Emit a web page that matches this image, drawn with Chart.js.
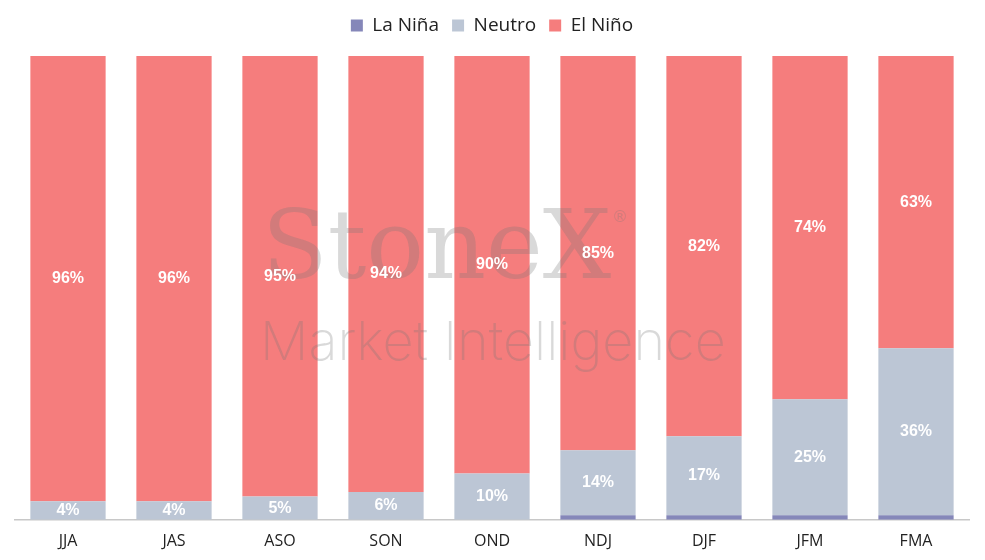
<!DOCTYPE html>
<html>
<head>
<meta charset="utf-8">
<script src="https://cdn.jsdelivr.net/npm/chart.js@4"></script>
<style>
html,body{margin:0;padding:0;background:#fff;}
#wrap{width:985px;height:560px;position:relative;}
</style>
</head>
<body>
<div id="wrap"><canvas id="c" width="985" height="560"></canvas></div>
<script>
const categories = ["JJA","JAS","ASO","SON","OND","NDJ","DJF","JFM","FMA"];
const laNina = [0,0,0,0,0,1,1,1,1];
const neutro = [4,4,5,6,10,14,17,25,36];
const elNino = [96,96,95,94,90,85,82,74,63];

const legendMargin = {
  id: 'legendMargin',
  beforeInit(chart) {
    const orig = chart.legend.fit;
    chart.legend.fit = function () {
      orig.bind(chart.legend)();
      this.height += 11;
    };
  }
};

const overlay = {
  id: 'overlay',
  afterDatasetsDraw(chart) {
    const ctx = chart.ctx;
    // watermark
    ctx.save();
    ctx.fillStyle = 'rgba(120,120,120,0.28)';
    ctx.textBaseline = 'alphabetic';
    ctx.textAlign = 'left';
    ctx.font = '96px "DejaVu Serif", "Liberation Serif", serif';
    ctx.fillText('StoneX', 262, 278);
    ctx.font = '16px "DejaVu Sans", sans-serif';
    ctx.fillText('®', 612, 222);
    ctx.font = '200 54px "Inter", "Lato", sans-serif';
    ctx.fillText('Market Intelligence', 260, 360);
    ctx.restore();
    // segment labels
    ctx.save();
    ctx.fillStyle = '#ffffff';
    ctx.font = 'bold 16px "Liberation Sans", Arial, sans-serif';
    ctx.textAlign = 'center';
    ctx.textBaseline = 'middle';
    chart.data.datasets.forEach((ds, di) => {
      if (di === 0) return;
      const meta = chart.getDatasetMeta(di);
      meta.data.forEach((bar, i) => {
        const v = ds.data[i];
        if (!v) return;
        const y = (bar.y + bar.base) / 2;
        ctx.fillText(v + '%', bar.x, y);
      });
    });
    ctx.restore();
  }
};

new Chart(document.getElementById('c'), {
  type: 'bar',
  data: {
    labels: categories,
    datasets: [
      { label: 'La Niña', data: laNina, backgroundColor: '#8587B9' },
      { label: 'Neutro', data: neutro, backgroundColor: '#BCC6D5' },
      { label: 'El Niño', data: elNino, backgroundColor: '#F57D7D' }
    ]
  },
  options: {
    responsive: false,
    animation: false,
    layout: { padding: { left: 15, right: 16, top: 3, bottom: -3 } },
    datasets: { bar: { barPercentage: 0.71, categoryPercentage: 1.0 } },
    plugins: {
      legend: {
        position: 'top',
        labels: {
          boxWidth: 12, boxHeight: 12, padding: 13,
          color: '#222',
          font: { family: '"Open Sans", Lato, sans-serif', size: 19 }
        }
      },
      tooltip: { enabled: false }
    },
    scales: {
      x: {
        stacked: true,
        grid: { display: false, drawTicks: false },
        border: { color: '#c8c8c8', width: 1.5 },
        ticks: { color: '#222', padding: 12, font: { family: '"Open Sans", Lato, sans-serif', size: 16 } }
      },
      y: {
        stacked: true,
        min: 0, max: 100,
        display: false
      }
    }
  },
  plugins: [legendMargin, overlay]
});
</script>
</body>
</html>
